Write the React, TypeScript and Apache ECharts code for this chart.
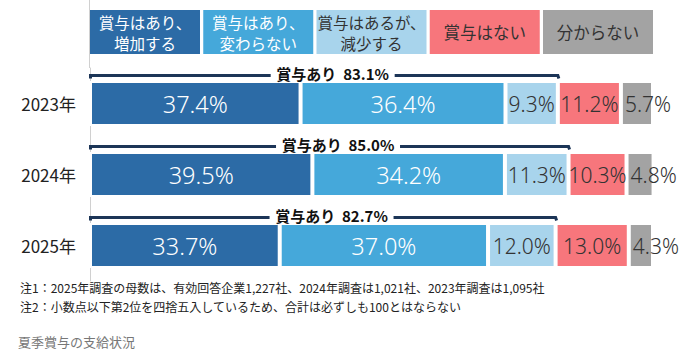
import React, { useEffect, useRef } from "react";
import * as echarts from "echarts";

const years = ["2023年", "2024年", "2025年"];
const seriesNames = ["賞与はあり、増加する", "賞与はあり、変わらない", "賞与はあるが、減少する", "賞与はない", "分からない"];
const legendLabels = ["賞与はあり、\n増加する", "賞与はあり、\n変わらない", "賞与はあるが、\n減少する", "賞与はない", "分からない"];
const increase = [37.4, 39.5, 33.7];
const unchanged = [36.4, 34.2, 37.0];
const decrease = [9.3, 11.3, 12.0];
const none = [11.2, 10.3, 13.0];
const unknown = [5.7, 4.8, 4.3];
const bonusTotal = [83.1, 85.0, 82.7];
const colors = ["#2c6ba6", "#45a8da", "#a8d4ec", "#f7767c", "#a3a3a3"];
const textColors = ["#ffffff", "#ffffff", "#333333", "#333333", "#333333"];
const notes = [
  "注1：2025年調査の母数は、有効回答企業1,227社、2024年調査は1,021社、2023年調査は1,095社",
  "注2：小数点以下第2位を四捨五入しているため、合計は必ずしも100とはならない",
];
const caption = "夏季賞与の支給状況";

const FONT = "'Noto Sans', 'Noto Sans CJK JP', sans-serif";
const CJK = "'Noto Sans CJK JP', sans-serif";

export default function App() {
  const ref = useRef<HTMLDivElement>(null);
  useEffect(() => {
    if (!ref.current) return;
    const chart = echarts.init(ref.current, null, { renderer: "svg" });
    const values = [increase, unchanged, decrease, none, unknown];

    const barSeries = values.map((arr, i) => ({
      name: seriesNames[i],
      type: "bar",
      stack: "total",
      barWidth: 45,
      data: arr,
      itemStyle: { color: colors[i], borderColor: "#ffffff", borderWidth: 2 },
      label: {
        show: true,
        position: i === 4 ? "insideLeft" : "inside",
        distance: 4,
        formatter: (p: any) => p.value.toFixed(1) + "%",
        color: textColors[i],
        fontSize: i < 2 ? 23.5 : 21,
        fontWeight: 300,
        fontFamily: FONT,
      },
      emphasis: { disabled: true },
    }));

    const bracketSeries = {
      type: "custom",
      coordinateSystem: "cartesian2d",
      z: 5,
      data: bonusTotal.map((v, i) => [v, i]),
      encode: { x: 0, y: 1 },
      renderItem: (params: any, api: any) => {
        const idx = api.value(1);
        const total = api.value(0);
        const p0 = api.coord([0, idx]);
        const p1 = api.coord([total, idx]);
        const y = p0[1] - 28;
        const x0 = p0[0] + 0.5;
        const x1 = p1[0] + 1;
        const cx = (x0 + x1) / 2 + 8;
        const half = 62;
        const style = { stroke: "#1c3557", lineWidth: 3, fill: "none" };
        return {
          type: "group",
          children: [
            {
              type: "polyline",
              shape: { points: [[x0, y + 3], [x0, y], [cx - half, y]] },
              style,
            },
            {
              type: "polyline",
              shape: { points: [[cx + half, y], [x1 - 1, y], [x1, y + 3]] },
              style,
            },
            {
              type: "text",
              x: cx,
              y: y - 2,
              style: {
                text: "賞与あり  " + total.toFixed(1) + "%",
                fill: "#111111",
                font: `bold 15px ${CJK}`,
                align: "center",
                verticalAlign: "middle",
              },
            },
          ],
        };
      },
    };

    const boxW = 110;
    const gap = (563 - 5 * boxW) / 4;
    const legendGraphics = legendLabels.map((t, i) => ({
      type: "group",
      x: 90 + i * (boxW + gap),
      y: 10,
      children: [
        { type: "rect", shape: { x: 0, y: 0, width: boxW, height: 44 }, style: { fill: colors[i] } },
        {
          type: "text",
          x: boxW / 2,
          y: 22,
          style: {
            text: t,
            fill: textColors[i],
            font: `${t.includes("\n") ? 15.5 : 16.5}px ${CJK}`,
            lineHeight: 21,
            align: "center",
            verticalAlign: "middle",
          },
        },
      ],
    }));

    chart.setOption({
      animation: false,
      grid: { left: 90, right: 39, top: 68, bottom: 73 },
      xAxis: { type: "value", min: 0, max: 100, show: false },
      yAxis: {
        type: "category",
        data: years,
        inverse: true,
        axisLine: { show: true, lineStyle: { color: "#d0d0d0", width: 1 } },
        axisTick: { show: false },
        axisLabel: { fontSize: 17, color: "#222222", margin: 14, fontFamily: CJK },
      },
      series: [...barSeries, bracketSeries],
      graphic: [
        { type: "line", shape: { x1: 89.5, y1: 0, x2: 89.5, y2: 68 }, style: { stroke: "#d0d0d0", lineWidth: 1 } },
        ...legendGraphics,
        { type: "text", x: 20, y: 287, style: { text: notes[0], fill: "#222222", font: `12px ${CJK}`, verticalAlign: "middle" } },
        { type: "text", x: 20, y: 306, style: { text: notes[1], fill: "#222222", font: `12px ${CJK}`, verticalAlign: "middle" } },
        { type: "text", x: 18, y: 341, style: { text: caption, fill: "#777777", font: `13px ${CJK}`, verticalAlign: "middle" } },
      ],
    });
    return () => chart.dispose();
  }, []);
  return <div ref={ref} style={{ position: "fixed", left: 0, top: 0, width: 692, height: 354, background: "#fff" }} />;
}
